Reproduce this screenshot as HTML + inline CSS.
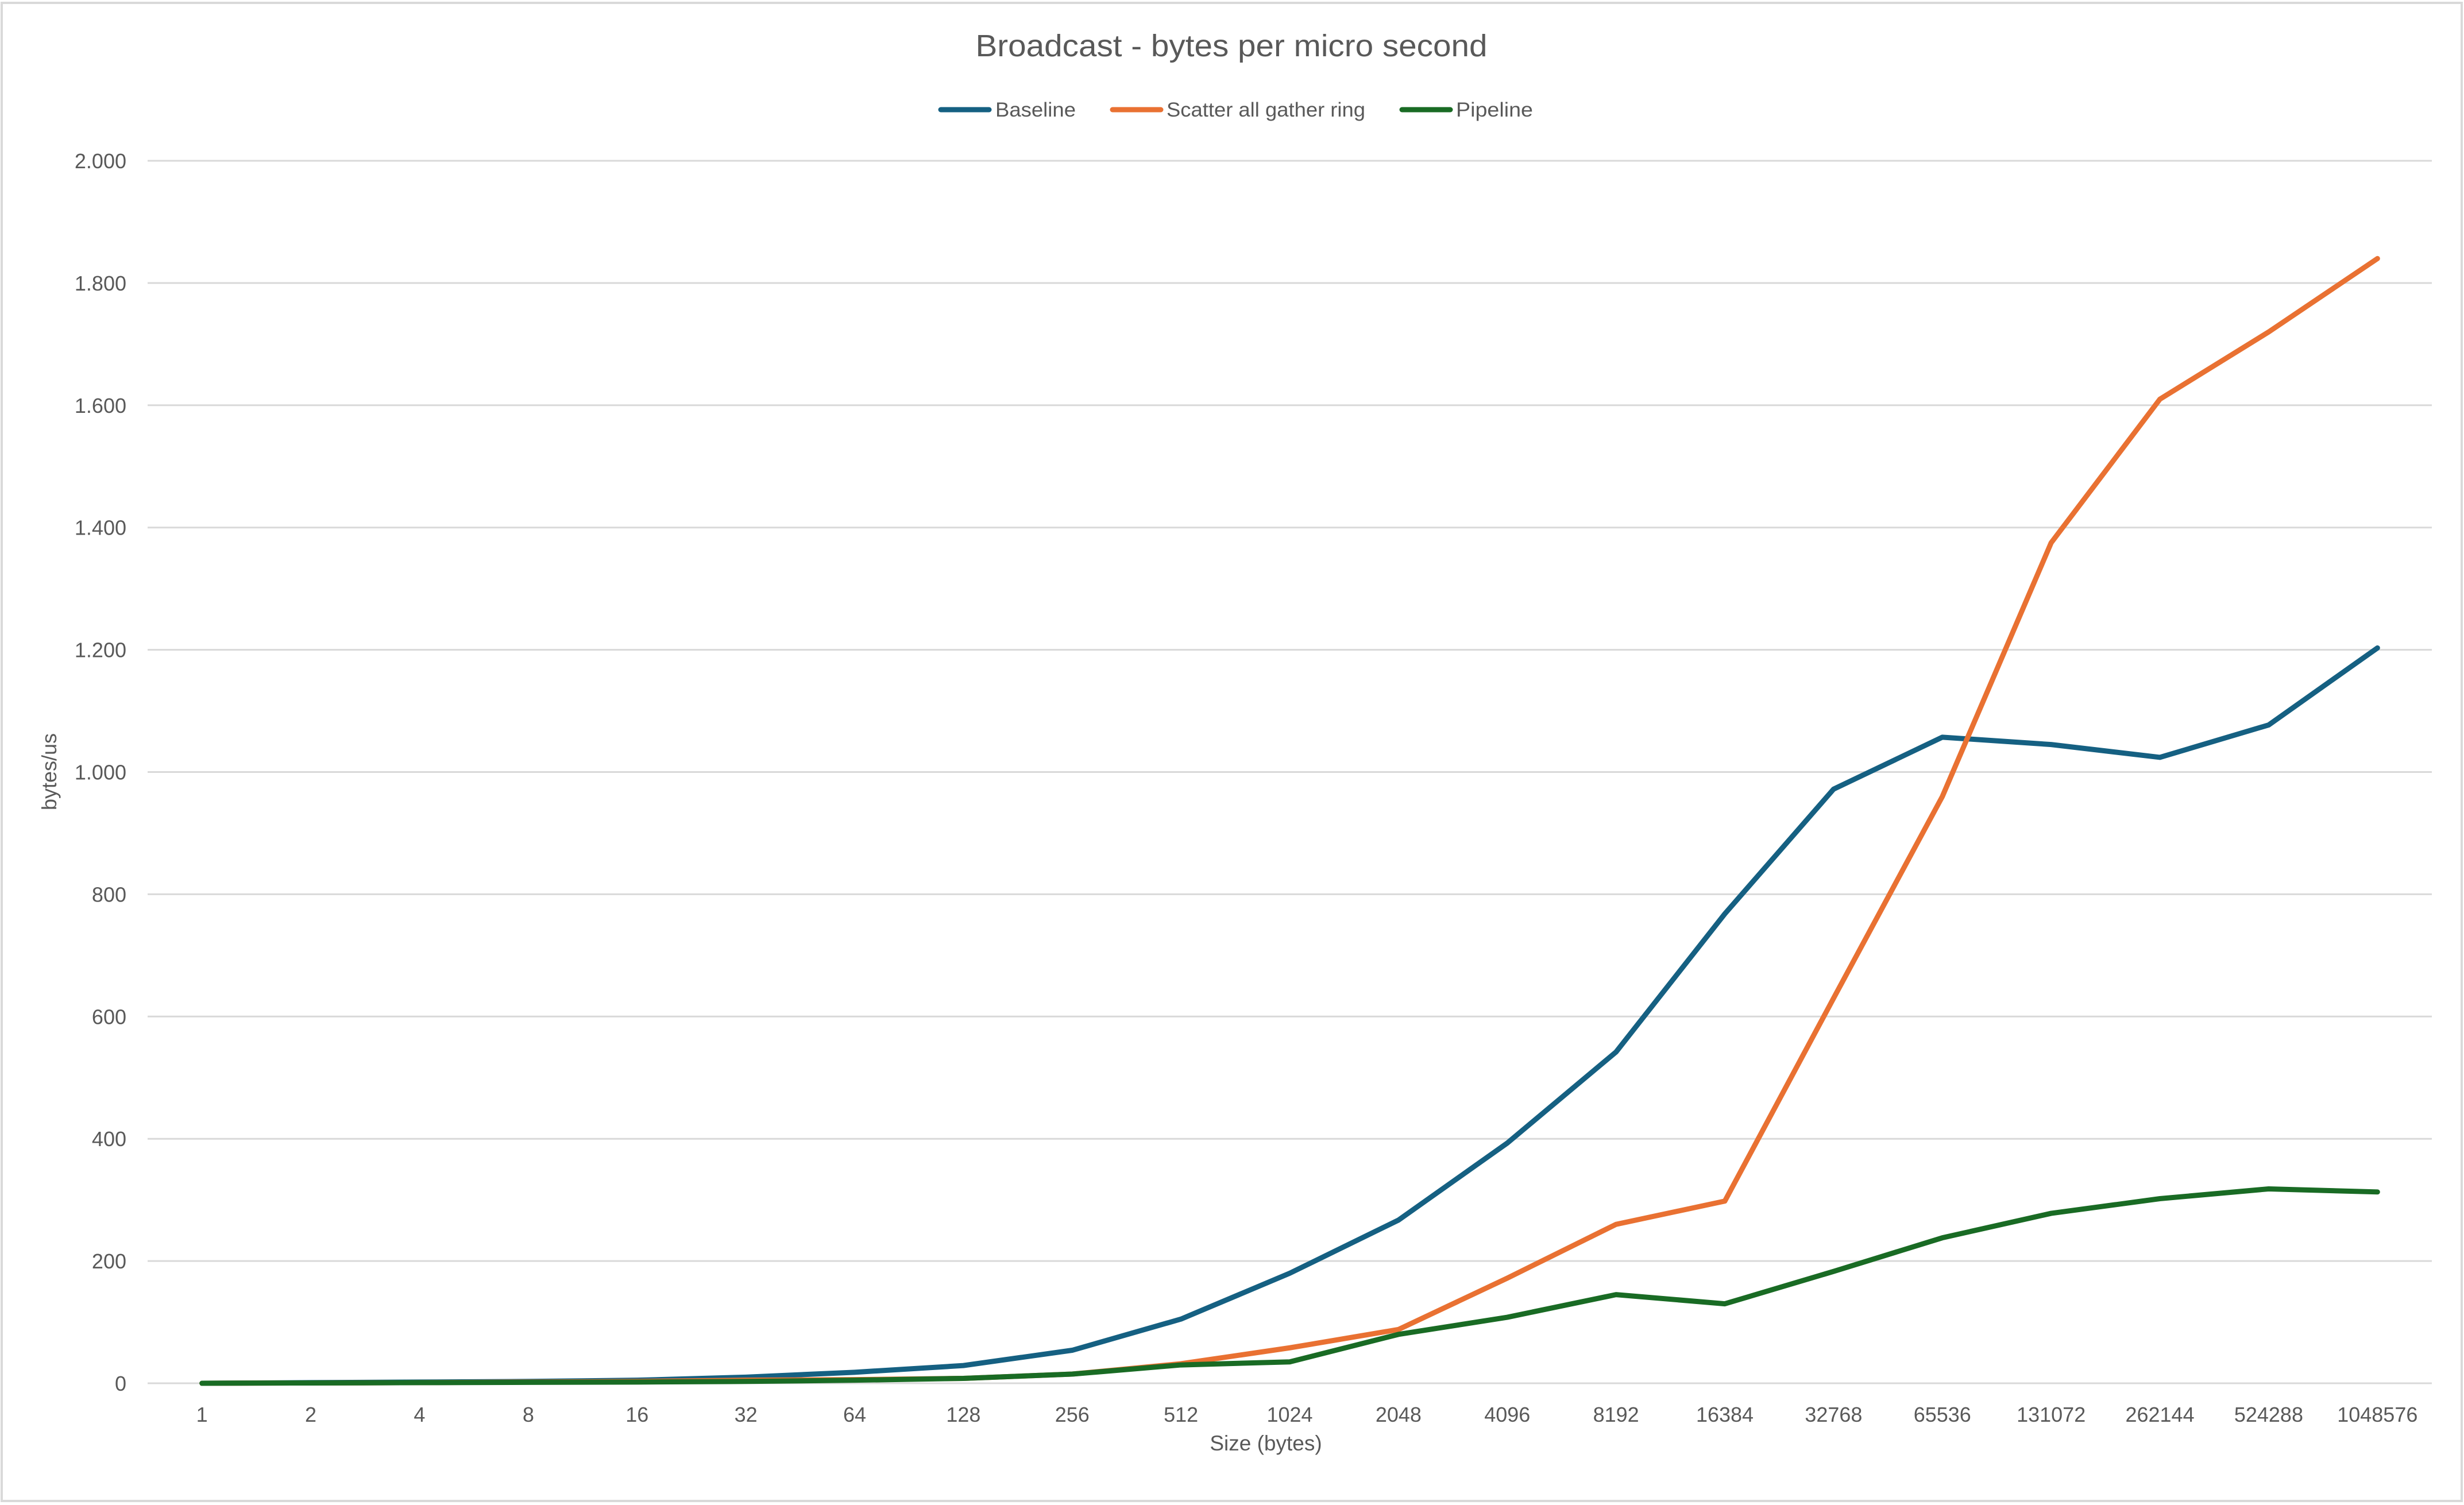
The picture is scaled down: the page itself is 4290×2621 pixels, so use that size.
<!DOCTYPE html>
<html><head><meta charset="utf-8"><style>
html,body{margin:0;padding:0;background:#fff;}
svg{display:block;}
text{font-family:"Liberation Sans",sans-serif;fill:#595959;}
</style></head><body>
<svg id="chart" width="4290" height="2621" viewBox="0 0 4290 2621">
<rect x="3" y="5" width="4283" height="2609" fill="#fff" stroke="#d9d9d9" stroke-width="4"/>
<text x="2144" y="98" font-size="54" text-anchor="middle" textLength="891" lengthAdjust="spacingAndGlyphs">Broadcast - bytes per micro second</text>
<g>
<g><line x1="1638" y1="191" x2="1722" y2="191" stroke="#156082" stroke-width="9" stroke-linecap="round"/><text x="1733" y="203" font-size="35" textLength="140" lengthAdjust="spacingAndGlyphs">Baseline</text></g>
<g><line x1="1937" y1="191" x2="2021" y2="191" stroke="#E97132" stroke-width="9" stroke-linecap="round"/><text x="2031" y="203" font-size="35" textLength="346" lengthAdjust="spacingAndGlyphs">Scatter all gather ring</text></g>
<g><line x1="2441" y1="191" x2="2525" y2="191" stroke="#196B24" stroke-width="9" stroke-linecap="round"/><text x="2535" y="203" font-size="35" textLength="134" lengthAdjust="spacingAndGlyphs">Pipeline</text></g>
</g>
<g id="grid"></g>
<g id="yticks"></g>
<g id="xticks"></g>
<g id="series"></g>
<text x="98" y="1344" font-size="36" text-anchor="middle" transform="rotate(-90 98 1344)">bytes/us</text>
<text x="2204" y="2526" font-size="37" text-anchor="middle">Size (bytes)</text>
</svg>
<script>
const categories = ["1","2","4","8","16","32","64","128","256","512","1024","2048","4096","8192","16384","32768","65536","131072","262144","524288","1048576"];
const baseline = [0,1,2,3,5,10,18,29,54,105,180,267,393,542,768,972,1057,1045,1024,1077,1203];
const scatter = [0,0.5,1,2,3,5,6,8,15,32,58,88,172,260,298,630,960,1375,1610,1720,1840];
const pipeline = [0,0.5,1,1.5,2,3,5,8,15,30,35,80,108,145,130,183,238,278,302,318,313];
const yTicks = [0,200,400,600,800,1000,1200,1400,1600,1800,2000];
const yTickLabels = ["0","200","400","600","800","1.000","1.200","1.400","1.600","1.800","2.000"];

const NS = "http://www.w3.org/2000/svg";
const plotL = 257, plotR = 4234, y0 = 2409, yTop = 280, yMax = 2000;
const band = (plotR - plotL) / categories.length;
function xPos(i){ return plotL + band * (i + 0.5); }
function yPos(v){ return y0 - (v / yMax) * (y0 - yTop); }

const grid = document.getElementById('grid');
const yt = document.getElementById('yticks');
yTicks.forEach((v, i) => {
  const l = document.createElementNS(NS, 'line');
  l.setAttribute('x1', plotL); l.setAttribute('x2', plotR);
  l.setAttribute('y1', yPos(v)); l.setAttribute('y2', yPos(v));
  l.setAttribute('stroke', '#d9d9d9'); l.setAttribute('stroke-width', '3');
  
  
  grid.appendChild(l);
  const t = document.createElementNS(NS, 'text');
  t.setAttribute('x', 220); t.setAttribute('y', yPos(v) + 13);
  t.setAttribute('font-size', '36'); t.setAttribute('text-anchor', 'end');
  t.textContent = yTickLabels[i];
  
  
  yt.appendChild(t);
});
const xt = document.getElementById('xticks');
categories.forEach((c, i) => {
  const t = document.createElementNS(NS, 'text');
  t.setAttribute('x', xPos(i)); t.setAttribute('y', 2476);
  t.setAttribute('font-size', '36'); t.setAttribute('text-anchor', 'middle');
  t.textContent = c;
  
  
  xt.appendChild(t);
});
const ser = document.getElementById('series');
function drawLine(vals, color, name){
  const p = document.createElementNS(NS, 'polyline');
  p.setAttribute('points', vals.map((v, i) => xPos(i) + ',' + yPos(v)).join(' '));
  p.setAttribute('fill', 'none'); p.setAttribute('stroke', color);
  p.setAttribute('stroke-width', '9'); p.setAttribute('stroke-linecap', 'round'); p.setAttribute('stroke-linejoin', 'round');
  
  
  ser.appendChild(p);
}
drawLine(baseline, '#156082', 'baseline-line');
drawLine(scatter, '#E97132', 'scatter-line');
drawLine(pipeline, '#196B24', 'pipeline-line');
</script>
</body></html>
